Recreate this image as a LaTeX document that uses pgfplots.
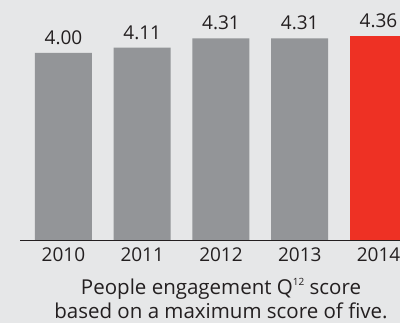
\documentclass[border=0pt]{standalone}
\usepackage{fontspec}
\setmainfont{Open Sans}
\usepackage{pgfplots}
\pgfplotsset{compat=1.18}
\definecolor{bgc}{HTML}{E6E7E8}
\definecolor{barg}{HTML}{939598}
\definecolor{barr}{HTML}{EE3124}
\definecolor{axc}{HTML}{231F20}
\begin{document}
\begin{tikzpicture}
\path[use as bounding box] (0,0) rectangle (400bp,323bp);
\fill[bgc] (0,0) rectangle (400bp,323bp);
\begin{scope}
\clip (0,0) rectangle (400bp,323bp);
\begin{axis}[
  at={(20bp,83bp)}, anchor=south west,
  scale only axis, width=405.75bp, height=257.4bp,
  xmin=-0.552, xmax=4.6, ymin=0, ymax=5.5,
  enlargelimits=false,
  axis x line=bottom, axis y line=none,
  x axis line style={-, line width=0.8bp, color=axc},
  xtick={0,1,2,3,4}, xticklabels={2010,2011,2012,2013,2014},
  major tick length=0pt,
  xticklabel style={anchor=base, yshift=-22bp, text=axc, font=\fontsize{19bp}{22bp}\selectfont},
  ybar, bar width=57bp,
  /pgf/number format/assume math mode=true,
  nodes near coords={\pgfmathprintnumber[fixed, fixed zerofill, precision=2]{\pgfplotspointmeta}},
  every node near coord/.append style={anchor=base, yshift=8.4bp, inner sep=0pt, text=axc, font=\fontsize{19bp}{22bp}\selectfont},
]
\addplot[fill=barg, draw=none, bar shift=0pt] coordinates {(0,4.00) (1,4.11) (2,4.31) (3,4.31)};
\addplot[fill=barr, draw=none, bar shift=0pt] coordinates {(4,4.36)};
\end{axis}
\end{scope}
\node[anchor=base, text=axc, font=\fontsize{20.5bp}{22bp}\selectfont, inner sep=0pt] at (221bp,29bp) {People engagement Q\raisebox{0.42em}{\fontsize{10bp}{10bp}\selectfont 12} score};
\node[anchor=base, text=axc, font=\fontsize{20.5bp}{22bp}\selectfont, inner sep=0pt] at (221bp,5bp) {based on a maximum score of five.};
\end{tikzpicture}
\end{document}
